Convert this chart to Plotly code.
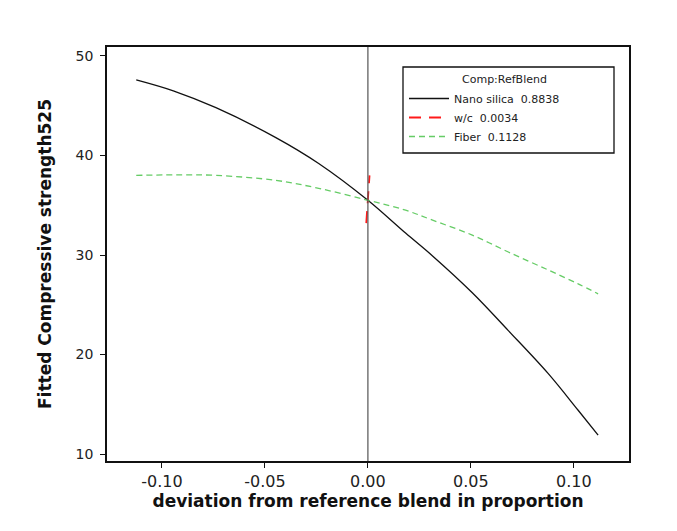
import plotly.graph_objects as go

# deviation from reference blend (x) and fitted response (y)
x_nano = [-0.1125, -0.0945, -0.0738, -0.0447, -0.0239, 0.0, 0.0183, 0.0314, 0.0507, 0.0682, 0.0875, 0.1021, 0.1118]
y_nano = [47.6, 46.5, 44.8, 41.8, 39.2, 35.5, 32.2, 29.9, 26.2, 22.4, 18.1, 14.4, 11.9]

x_wc = [-0.0008, 0.0008]
y_wc = [33.2, 38.0]

x_fiber = [-0.1125, -0.0945, -0.0738, -0.0447, -0.0239, 0.0, 0.0183, 0.0314, 0.0507, 0.0682, 0.0875, 0.1021, 0.1118]
y_fiber = [38.0, 38.05, 38.0, 37.5, 36.7, 35.5, 34.5, 33.5, 32.0, 30.3, 28.5, 27.1, 26.1]

names = ["Nano silica  0.8838", "w/c  0.0034", "Fiber  0.1128"]
legend_title = "Comp:RefBlend"
x_ticks = [-0.10, -0.05, 0.00, 0.05, 0.10]
x_ticklabels = ["-0.10", "-0.05", "0.00", "0.05", "0.10"]
y_ticks = [10, 20, 30, 40, 50]

FONT = "DejaVu Sans"
OFF = 8  # default page body margin of the html page
L, R, T, B = 107, 629, 47, 461  # plot area in page pixels
W, H = R - L, B - T

def px_x(p):
    return (p - L) / W

def px_y(p):
    return (B - p) / H

fig = go.Figure()
fig.add_trace(go.Scatter(x=x_nano, y=y_nano, mode="lines", name=names[0],
                         line=dict(color="#111111", width=1.3, shape="spline")))
fig.add_trace(go.Scatter(x=x_wc, y=y_wc, mode="lines", name=names[1],
                         line=dict(color="#ff1a1a", width=1.8, dash="12px,8px")))
fig.add_trace(go.Scatter(x=x_fiber, y=y_fiber, mode="lines", name=names[2],
                         line=dict(color="#66cc66", width=1.3, dash="6px,4px", shape="spline")))

# vertical reference line at 0
fig.add_vline(x=0, line=dict(color="#555555", width=1.2))

# legend box
fig.add_shape(type="rect", xref="paper", yref="paper",
              x0=px_x(403), x1=px_x(614), y0=px_y(153), y1=px_y(67),
              line=dict(color="#111111", width=1.3), fillcolor="rgba(0,0,0,0)")
fig.add_annotation(xref="paper", yref="paper", x=px_x(460), y=px_y(79),
                   xanchor="left", yanchor="middle", showarrow=False,
                   text=legend_title, font=dict(family=FONT, size=11, color="#222222"))

fig.update_layout(
    width=677, height=531,
    margin=dict(l=L - OFF, r=677 - R + OFF, t=T - OFF, b=531 - B + OFF, autoexpand=False),
    paper_bgcolor="white", plot_bgcolor="white",
    font=dict(family=FONT, color="#222222"),
    showlegend=True,
    legend=dict(
        x=px_x(404), y=px_y(84), xanchor="left", yanchor="top",
        bgcolor="rgba(0,0,0,0)", borderwidth=0,
        font=dict(family=FONT, size=11, color="#222222"),
        tracegroupgap=0, itemwidth=40,
    ),
    xaxis=dict(
        range=[-0.1267, 0.1268], tickvals=x_ticks, ticktext=x_ticklabels, automargin=False,
        showgrid=False, zeroline=False, showline=True, linecolor="#111111", linewidth=1.5,
        mirror=True, ticks="outside", ticklen=5, tickcolor="#111111", tickwidth=1.3,
        ticklabelstandoff=0,
        tickfont=dict(family=FONT, size=16, color="#222222"),
        title=dict(text="<b>deviation from reference blend in proportion</b>",
                   font=dict(family=FONT, size=17, color="#111111"), standoff=0),
    ),
    yaxis=dict(
        range=[9.3, 50.9], tickvals=y_ticks, automargin=False,
        showgrid=False, zeroline=False, showline=True, linecolor="#111111", linewidth=1.5,
        mirror=True, ticks="outside", ticklen=5, tickcolor="#111111", tickwidth=1.3,
        ticklabelstandoff=4,
        tickfont=dict(family=FONT, size=14, color="#222222"),
        title=dict(text="<b>Fitted Compressive strength525</b>",
                   font=dict(family=FONT, size=17, color="#111111"), standoff=20),
    ),
)

fig.write_html("out.html")
